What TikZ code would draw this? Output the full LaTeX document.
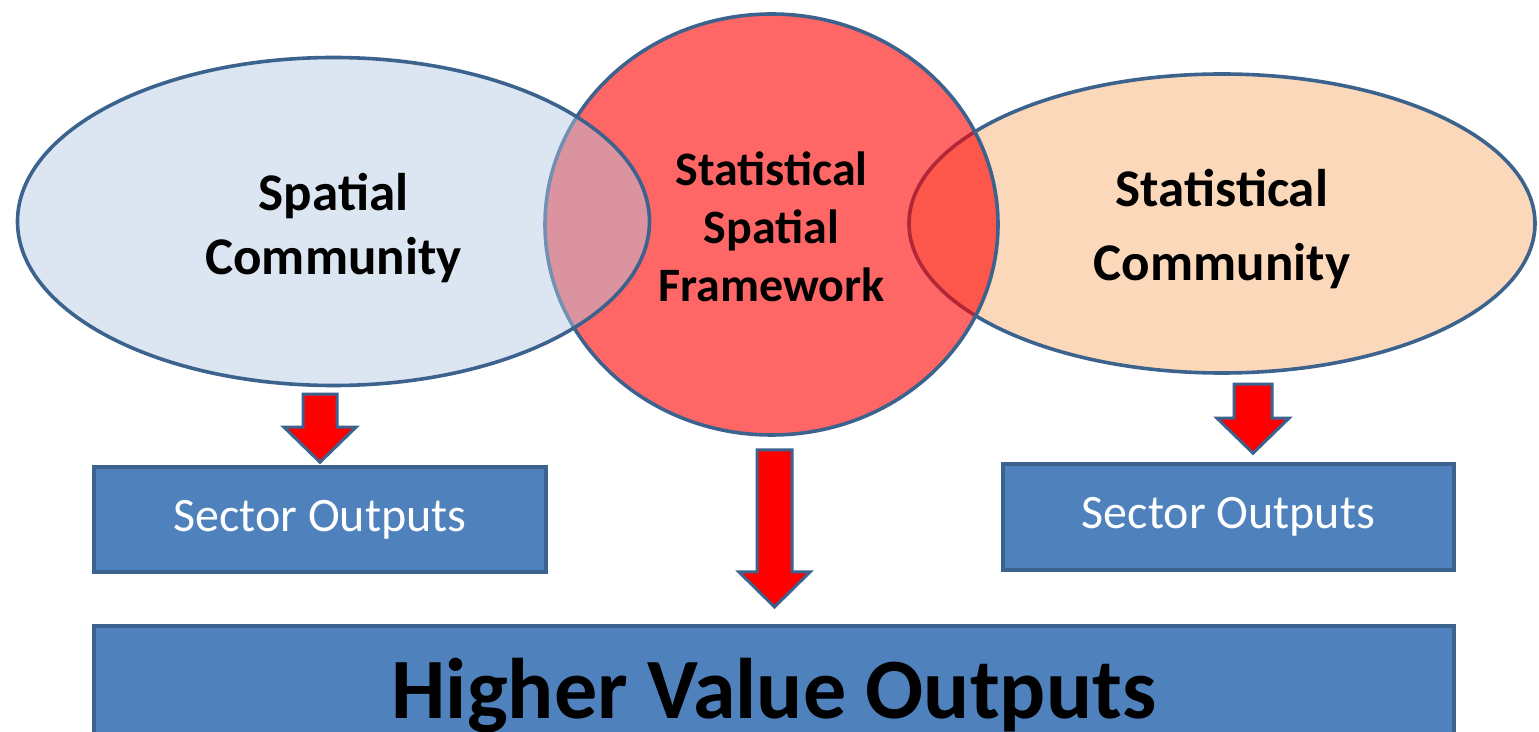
\documentclass[tikz,border=0pt]{standalone}
\usepackage{fontspec}
\setmainfont{Carlito}
\usetikzlibrary{shapes.geometric,calc}
\definecolor{edgeblue}{RGB}{60,98,142}
\definecolor{boxblue}{RGB}{79,129,189}
\definecolor{spatialfill}{RGB}{178,200,226}
\definecolor{statfill}{RGB}{252,216,186}
% block arrow from tail #1 to tip #2, half shaft #3, half head #4
\newcommand{\redarrow}[4]{\draw[blockarrow] ($(#1)+(-#3,0)$) -- ($(#1)+(#3,0)$) -- ($(#2)+(#3,-35)$) -- ($(#2)+(#4,-35)$) -- (#2) -- ($(#2)+(-#4,-35)$) -- ($(#2)+(-#3,-35)$) -- cycle;}

\begin{document}
\begin{tikzpicture}[x=0.5pt,y=-0.5pt,
    community/.style={ellipse,draw=edgeblue,line width=1.8pt},
    ctext/.style={align=center,font=\bfseries\fontsize{26.5}{32}\selectfont},
    outbox/.style={rectangle,draw=edgeblue,fill=boxblue,line width=1.8pt},
    blockarrow/.style={draw=edgeblue,fill=red,line width=1.5pt,line join=miter}]
    \useasboundingbox (0,0) rectangle (1539,732);
    \node[community,fill=statfill,minimum width=313pt,minimum height=149.5pt] (stat) at (1222,223.5) {};
    \node[community,fill=red,fill opacity=0.6,minimum width=226.5pt,minimum height=210.5pt] (ssf) at (771.5,224.5) {};
    \node[community,fill=spatialfill,fill opacity=0.46,minimum width=316pt,minimum height=164pt] (spat) at (333.5,221.5) {};
    \node[ctext] (spatt) at ($(spat)+(0,7)$) {Spatial\\Community};
    \node[ctext,font=\bfseries\fontsize{24}{29}\selectfont] (ssft) at ($(ssf)+(0,2)$) {Statistical\\Spatial\\Framework};
    \node[ctext,font=\bfseries\fontsize{26.5}{37}\selectfont] (statt) at ($(stat)+(0,6)$) {Statistical\\Community};
    \node[outbox,minimum width=226pt,minimum height=52.5pt,text=white,font=\fontsize{24}{29}\selectfont] (lbox) at (320,519.5) {Sector Outputs};
    \node[outbox,minimum width=225.5pt,minimum height=53pt,text=white,font=\fontsize{24}{29}\selectfont] (rbox) at (1228.5,517) {Sector Outputs};
    \node[outbox,anchor=north,minimum width=680pt,minimum height=69.5pt,font=\bfseries\fontsize{43}{50}\selectfont] (hvo) at (774,624) {Higher Value Outputs};
    \coordinate (a1e) at ($(lbox.north)+(0,-3)$);
    \coordinate (a1s) at ($(a1e)+(0,-68)$);
    \coordinate (a2e) at ($(hvo.north)+(0.5,-17)$);
    \coordinate (a2s) at ($(a2e)+(0,-157)$);
    \coordinate (a3e) at ($(rbox.north)+(24.5,-9)$);
    \coordinate (a3s) at ($(a3e)+(0,-69)$);
    \redarrow{a1s}{a1e}{17}{36}
    \redarrow{a2s}{a2e}{17.5}{35.5}
    \redarrow{a3s}{a3e}{19}{36}
\end{tikzpicture}
\end{document}
